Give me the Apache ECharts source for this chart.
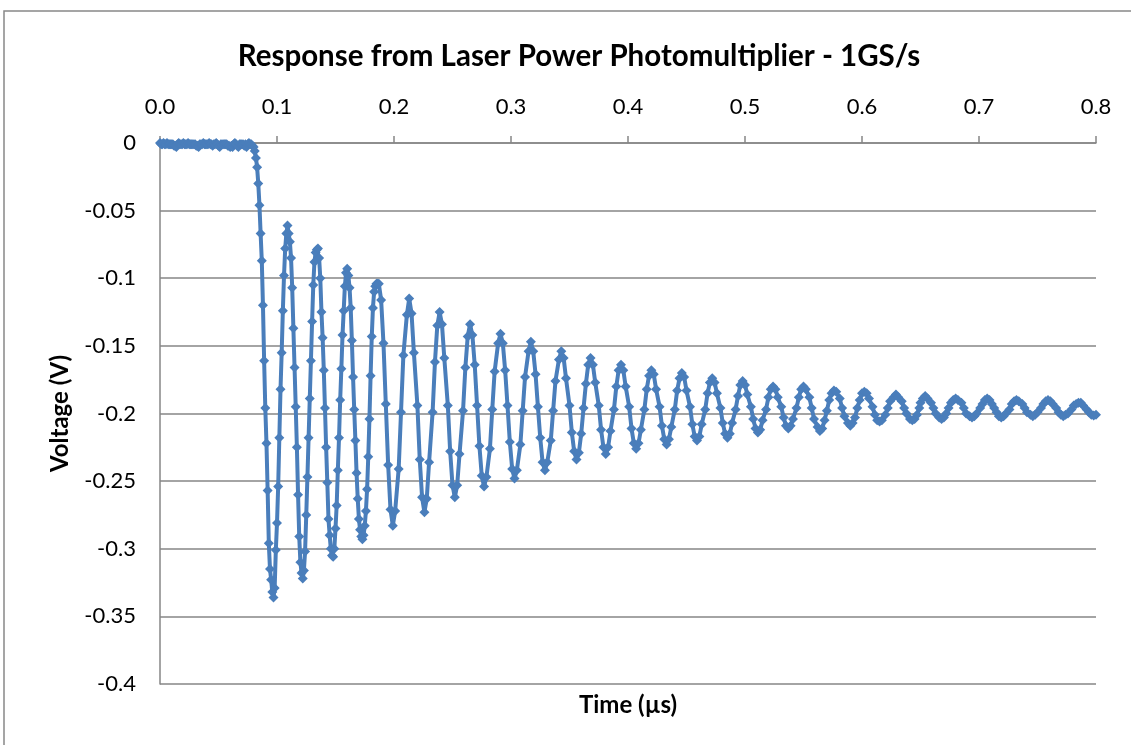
<!DOCTYPE html>
<html>
<head>
<meta charset="utf-8">
<title>Response from Laser Power Photomultiplier</title>
<script src="https://cdn.jsdelivr.net/npm/echarts@6/dist/echarts.min.js"></script>
<style>
  html, body { margin: 0; padding: 0; background: #fff; }
  #chart { width: 1131px; height: 745px; }
</style>
</head>
<body>
<div id="chart"></div>
<script>
// 1 GS/s -> one sample per ns. Baseline before the pulse, index = ns
const baseVolts = [
  0, -0.001, -0.001, 0, -0.001, -0.001, 0, -0.001, -0.001, -0.001,
  -0.001, -0.001, -0.002, -0.002, -0.003, -0.001, 0, -0.001, -0.001, -0.001,
  0, -0.001, -0.001, -0.001, 0, -0.001, -0.001, -0.001, -0.001, -0.001,
  -0.001, -0.002, -0.002, -0.003, -0.001, -0.001, -0.001, 0, -0.001, -0.001,
  -0.001, -0.001, 0, -0.001, -0.001, -0.002, -0.001, -0.001, 0, -0.001,
  -0.002, -0.003, -0.001, -0.001, -0.001, -0.001, -0.001, -0.001, -0.002, -0.002,
  -0.003, -0.002, -0.003, -0.001, 0, -0.001, -0.002, -0.003, -0.001, -0.001,
  -0.001, -0.001, -0.002, -0.001, -0.003, -0.001, 0, -0.001, -0.001
];

// leading edge and first ringing cycles, one value per ns from 79 ns
const edgeStartNs = 79;
const edgeVolts = [
  -0.002, -0.003, -0.006, -0.011, -0.018, -0.030, -0.046, -0.067, -0.087, -0.120,
  -0.161, -0.196, -0.222, -0.257, -0.296, -0.315, -0.323, -0.332, -0.336, -0.329,
  -0.301, -0.281, -0.254, -0.218, -0.182, -0.155, -0.124, -0.098, -0.078, -0.067,
  -0.061, -0.067, -0.073, -0.085, -0.107, -0.137, -0.166, -0.195, -0.225, -0.260,
  -0.291, -0.310, -0.318, -0.322, -0.316, -0.302, -0.275, -0.247, -0.218, -0.189,
  -0.161, -0.132, -0.105, -0.088, -0.081, -0.079, -0.078, -0.085, -0.100, -0.125,
  -0.144, -0.168, -0.196, -0.225, -0.251, -0.278, -0.290, -0.300, -0.305, -0.306,
  -0.300, -0.285, -0.268, -0.242, -0.218, -0.190, -0.167, -0.142, -0.124, -0.106,
  -0.096, -0.093, -0.098, -0.107, -0.122, -0.146, -0.173, -0.197, -0.220, -0.244,
  -0.263, -0.278, -0.286, -0.291, -0.293, -0.290, -0.283, -0.272, -0.256, -0.232,
  -0.204, -0.172, -0.143, -0.122, -0.110, -0.106, -0.104, -0.104
];

// later ringing, one row per half cycle: extreme first, then points down the slope (ns)
const ringNs = [
  187, 189, 191, 193, 195, 197,
  199, 201, 204, 206, 208, 211,
  213, 215, 217, 220, 222, 224,
  226, 228, 230, 233, 235, 237,
  239, 241, 243, 246, 248, 250,
  252, 254, 256, 259, 261, 263,
  265, 267, 269, 271, 273, 275,
  277, 279, 282, 284, 286, 289,
  291, 293, 295, 297, 299, 301,
  303, 305, 308, 310, 312, 315,
  317, 319, 321, 323, 325, 327,
  329, 331, 334, 336, 338, 341,
  343, 345, 347, 350, 352, 354,
  356, 358, 360, 362, 364, 366,
  368, 370, 372, 375, 377, 379,
  381, 383, 385, 388, 390, 392,
  394, 396, 398, 401, 403, 405,
  407, 409, 411, 414, 416, 418,
  420, 422, 424, 427, 429, 431,
  433, 435, 437, 440, 442, 444,
  446, 448, 450, 453, 455, 457,
  459, 461, 463, 466, 468, 470,
  472, 474, 476, 479, 481, 483,
  485, 487, 489, 492, 494, 496,
  498, 500, 502, 505, 507, 509,
  511, 513, 515, 518, 520, 522,
  524, 526, 528, 531, 533, 535,
  537, 539, 541, 544, 546, 548,
  550, 552, 555, 557, 559, 562,
  564, 566, 568, 570, 572, 574,
  576, 578, 581, 583, 585, 588,
  590, 592, 594, 596, 598, 600,
  602, 604, 606, 609, 611, 613,
  615, 617, 620, 622, 624, 627,
  629, 631, 634, 636, 638, 641,
  643, 645, 647, 649, 650, 652,
  654, 656, 659, 661, 663, 666,
  668, 670, 672, 674, 676, 678,
  680, 682, 685, 687, 689, 692,
  694, 696, 698, 701, 703, 705,
  707, 709, 711, 713, 715, 717,
  719, 721, 723, 726, 728, 730,
  732, 734, 737, 739, 741, 744,
  746, 748, 750, 753, 755, 757,
  759, 761, 763, 766, 768, 770,
  772, 774, 776, 779, 781, 783,
  785, 787, 789, 792, 794, 796,
  798, 800
];
const ringVolts = [
  -0.104, -0.116, -0.148, -0.193, -0.238, -0.271,
  -0.283, -0.272, -0.241, -0.199, -0.157, -0.127,
  -0.115, -0.126, -0.155, -0.194, -0.234, -0.262,
  -0.273, -0.263, -0.236, -0.199, -0.162, -0.135,
  -0.125, -0.134, -0.159, -0.194, -0.228, -0.253,
  -0.262, -0.253, -0.230, -0.198, -0.166, -0.143,
  -0.134, -0.142, -0.164, -0.194, -0.224, -0.246,
  -0.254, -0.247, -0.226, -0.197, -0.169, -0.148,
  -0.141, -0.148, -0.168, -0.194, -0.221, -0.241,
  -0.248, -0.242, -0.223, -0.198, -0.173, -0.154,
  -0.147, -0.154, -0.171, -0.195, -0.218, -0.236,
  -0.242, -0.236, -0.220, -0.198, -0.176, -0.160,
  -0.154, -0.159, -0.174, -0.194, -0.214, -0.228,
  -0.234, -0.229, -0.215, -0.196, -0.178, -0.164,
  -0.159, -0.164, -0.177, -0.194, -0.212, -0.225,
  -0.230, -0.225, -0.213, -0.197, -0.180, -0.168,
  -0.164, -0.168, -0.180, -0.195, -0.211, -0.222,
  -0.226, -0.222, -0.212, -0.197, -0.182, -0.172,
  -0.168, -0.171, -0.182, -0.195, -0.209, -0.219,
  -0.223, -0.219, -0.210, -0.197, -0.183, -0.174,
  -0.170, -0.173, -0.183, -0.195, -0.208, -0.217,
  -0.220, -0.217, -0.208, -0.197, -0.185, -0.177,
  -0.174, -0.177, -0.185, -0.196, -0.207, -0.215,
  -0.218, -0.215, -0.207, -0.197, -0.187, -0.179,
  -0.176, -0.179, -0.186, -0.195, -0.204, -0.211,
  -0.214, -0.212, -0.205, -0.197, -0.188, -0.182,
  -0.180, -0.182, -0.188, -0.195, -0.203, -0.209,
  -0.211, -0.209, -0.204, -0.196, -0.188, -0.182,
  -0.180, -0.182, -0.188, -0.196, -0.204, -0.210,
  -0.213, -0.211, -0.205, -0.198, -0.190, -0.185,
  -0.183, -0.184, -0.189, -0.196, -0.202, -0.207,
  -0.209, -0.207, -0.203, -0.196, -0.190, -0.185,
  -0.184, -0.185, -0.189, -0.195, -0.201, -0.205,
  -0.206, -0.205, -0.201, -0.196, -0.191, -0.188,
  -0.186, -0.188, -0.191, -0.196, -0.200, -0.204,
  -0.205, -0.204, -0.201, -0.196, -0.192, -0.189,
  -0.187, -0.189, -0.192, -0.196, -0.200, -0.203,
  -0.204, -0.203, -0.200, -0.196, -0.192, -0.190,
  -0.189, -0.190, -0.192, -0.196, -0.200, -0.202,
  -0.203, -0.202, -0.200, -0.196, -0.193, -0.190,
  -0.189, -0.190, -0.193, -0.196, -0.199, -0.202,
  -0.203, -0.202, -0.200, -0.197, -0.193, -0.191,
  -0.190, -0.191, -0.193, -0.196, -0.199, -0.201,
  -0.202, -0.201, -0.199, -0.196, -0.193, -0.191,
  -0.190, -0.191, -0.193, -0.196, -0.199, -0.201,
  -0.202, -0.201, -0.200, -0.197, -0.194, -0.193,
  -0.192, -0.192, -0.194, -0.197, -0.199, -0.201,
  -0.2015, -0.201
];

const xTicks = [0, 0.1, 0.2, 0.3, 0.4, 0.5, 0.6, 0.7, 0.8];

const points = [];
baseVolts.forEach((v, i) => points.push([i / 1000, v]));
edgeVolts.forEach((v, i) => points.push([(edgeStartNs + i) / 1000, v]));
ringNs.forEach((t, i) => points.push([t / 1000, ringVolts[i]]));

const chart = echarts.init(document.getElementById('chart'));
const font = 'Lato, "Open Sans", sans-serif';

chart.setOption({
    animation: false,
    backgroundColor: '#fff',
    title: {
        text: 'Response from Laser Power Photomultiplier - 1GS/s',
        left: 574,
        textAlign: 'center',
        top: 36,
        textStyle: { fontFamily: font, fontWeight: 'bold', fontSize: 29.5, color: '#000' }
    },
    graphic: [{
        type: 'rect',
        shape: { x: 4, y: 11, width: 1200, height: 800 },
        style: { fill: 'none', stroke: '#888', lineWidth: 1.5 }
    }],
    grid: { left: 160, right: 35, top: 143, bottom: 61 },
    xAxis: [{
        type: 'value',
        position: 'top',
        min: xTicks[0],
        max: xTicks[xTicks.length - 1],
        interval: 0.1,
        axisLine: { show: true, lineStyle: { color: '#868686', width: 1.5 } },
        axisTick: { show: true, length: 7, lineStyle: { color: '#868686', width: 1.5 } },
        axisLabel: { formatter: v => v.toFixed(1), fontFamily: font, fontSize: 22, color: '#000', margin: 25 },
        splitLine: { show: false }
    }, {
        type: 'value',
        position: 'bottom',
        min: 0,
        max: 0.8,
        name: 'Time (µs)',
        nameLocation: 'middle',
        nameGap: 9,
        nameTextStyle: { fontFamily: font, fontWeight: 'bold', fontSize: 24, color: '#000', verticalAlign: 'top' },
        axisLine: { show: false },
        axisTick: { show: false },
        axisLabel: { show: false },
        splitLine: { show: false }
    }],
    yAxis: {
        type: 'value',
        min: -0.4,
        max: 0,
        interval: 0.05,
        name: 'Voltage (V)',
        nameLocation: 'middle',
        nameGap: 88,
        nameTextStyle: { fontFamily: font, fontWeight: 'bold', fontSize: 24, color: '#000' },
        axisLine: { show: true, lineStyle: { color: '#868686', width: 1.5 } },
        axisTick: { show: false },
        axisLabel: { fontFamily: font, fontSize: 22, color: '#000', margin: 24 },
        splitLine: { show: true, lineStyle: { color: '#868686', width: 1.5 } }
    },
    series: [{
        type: 'line',
        xAxisIndex: 0,
        data: points,
        symbol: 'diamond',
        symbolSize: 10,
        showAllSymbol: true,
        lineStyle: { color: '#4A7EBB', width: 4 },
        itemStyle: { color: '#4A7EBB' }
    }]
});
</script>
</body>
</html>
